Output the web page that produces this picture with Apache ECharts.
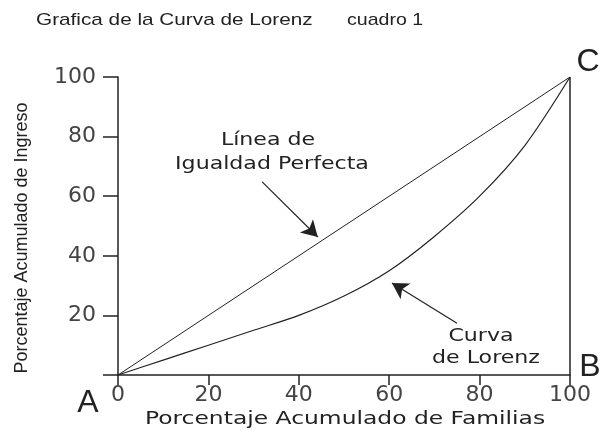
<!DOCTYPE html>
<html lang="es">
<head>
  <meta charset="UTF-8">
  <title>Curva de Lorenz</title>
  <script src="https://cdn.jsdelivr.net/npm/echarts@6/dist/echarts.min.js"></script>
  <style>
    body { margin: 0; background: #fff; }
    #chart { width: 602px; height: 431px; }
  </style>
</head>
<body>
<div id="chart"></div>
<script>
  // datos
  var familias = [0, 10, 20, 30, 40, 50, 60, 70, 80, 90, 100];
  var ingreso  = [0, 5, 10, 15, 20, 26.5, 35, 46.5, 60, 77, 100];
  var igualdad = [[0, 0], [100, 100]];
  var xTicks = [0, 20, 40, 60, 80, 100];
  var yTicks = [0, 20, 40, 60, 80, 100];

  var lorenz = familias.map(function (f, i) { return [f, ingreso[i]]; });

  var chart = echarts.init(document.getElementById('chart'), null, { renderer: 'canvas' });

  var tickFont = { color: '#444', fontFamily: 'DejaVu Sans', fontSize: 22 };

  // texto centrado en (x, y), estirado a lo ancho como en el original
  function label(txt, x, y, font, sx) {
    return {
      type: 'text', x: x, y: y, scaleX: sx,
      style: { text: txt, x: 0, y: 0, fill: '#222', font: font, textAlign: 'center', textVerticalAlign: 'middle' }
    };
  }

  var annFont = '17px "DejaVu Sans"';

  var option = {
    animation: false,
    backgroundColor: '#fff',
    grid: { left: 118, right: 32, top: 77, bottom: 56, outerBoundsMode: 'none' },
    xAxis: {
      type: 'value', min: 0, max: 100, interval: 20,
      axisLine: { show: true, lineStyle: { color: '#222', width: 1.5 } },
      axisTick: { show: true, length: 10, lineStyle: { color: '#222', width: 1.5 } },
      axisLabel: Object.assign({ margin: 9, formatter: function (v) { return xTicks.indexOf(v) >= 0 ? v : ''; } }, tickFont),
      splitLine: { show: false }
    },
    yAxis: {
      type: 'value', min: 0, max: 100, interval: 20,
      name: 'Porcentaje Acumulado de Ingreso',
      nameLocation: 'middle', nameGap: 87,
      nameTextStyle: { color: '#222', fontFamily: 'Liberation Sans', fontSize: 18, padding: [0, 0, 0, -24] },
      axisLine: { show: true, lineStyle: { color: '#222', width: 1.5 } },
      axisTick: { show: true, length: 15, lineStyle: { color: '#222', width: 1.5 } },
      axisLabel: Object.assign({ margin: 22, formatter: function (v) { return (v === 0 || yTicks.indexOf(v) < 0) ? '' : v; } }, tickFont),
      splitLine: { show: false }
    },
    series: [
      {
        name: 'Igualdad', type: 'line', data: igualdad, symbol: 'none',
        lineStyle: { color: '#222', width: 1 },
        markLine: {
          silent: true, symbol: 'none', label: { show: false },
          lineStyle: { color: '#222', width: 1.5, type: 'solid' },
          data: [{ xAxis: 100 }]
        }
      },
      {
        name: 'Lorenz', type: 'line', data: lorenz, symbol: 'none', smooth: 0.3,
        lineStyle: { color: '#222', width: 1.2 },
        markLine: {
          silent: true, symbol: ['none', 'arrow'], symbolSize: [14, 16],
          label: { show: false },
          lineStyle: { color: '#222', width: 1.2, type: 'solid' },
          data: [
            [{ coord: [31.9, 64.8] }, { coord: [44.2, 46.3] }],
            [{ coord: [75, 17.4] }, { coord: [60.6, 30.9] }]
          ]
        }
      }
    ],
    graphic: [
      { type: 'text', x: 36, y: 20, scaleX: 1.22, style: { text: 'Grafica de la Curva de Lorenz', x: 0, y: 0, textVerticalAlign: 'middle', fill: '#222', font: '17px "Liberation Sans"' } },
      { type: 'text', x: 347, y: 20, scaleX: 1.15, style: { text: 'cuadro 1', x: 0, y: 0, textVerticalAlign: 'middle', fill: '#222', font: '17px "Liberation Sans"' } },
      label('Línea de', 268, 141, annFont, 1.3),
      label('Igualdad Perfecta', 272, 165, annFont, 1.3),
      label('Curva', 481, 337, annFont, 1.3),
      label('de Lorenz', 486, 359, annFont, 1.3),
      label('Porcentaje Acumulado de Familias', 345, 419, '18px "DejaVu Sans"', 1.3),
      label('A', 88, 403, '32px "Liberation Sans"', 1),
      label('B', 590, 367, '32px "Liberation Sans"', 1),
      label('C', 588, 62, '32px "Liberation Sans"', 1)
    ]
  };

  chart.setOption(option);
  window.addEventListener('resize', chart.resize);
</script>
</body>
</html>
